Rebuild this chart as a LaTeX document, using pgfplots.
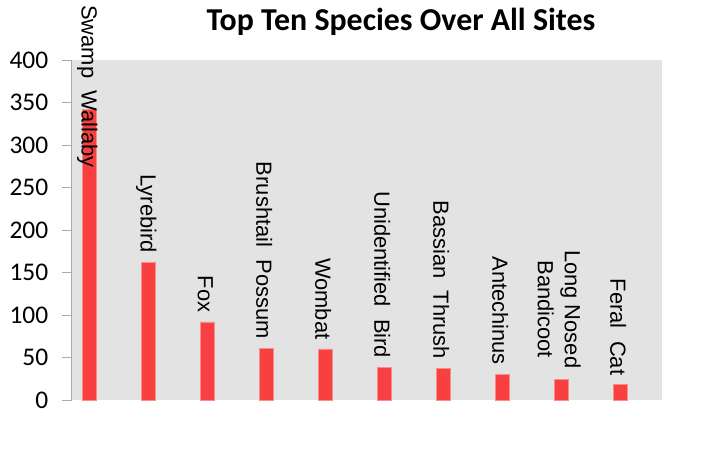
\documentclass[border=0pt]{standalone}
\usepackage{pgfplots}
\pgfplotsset{compat=1.18}
\usepackage{fontspec}
\setmainfont{Liberation Sans}
\newfontfamily\calibri{Carlito}
\definecolor{plotgray}{RGB}{227,227,227}
\definecolor{barred}{RGB}{249,64,64}
\definecolor{axisgray}{RGB}{170,170,170}
\tikzset{lbl/.style={font=\fontsize{22}{27}\selectfont, inner sep=0pt, xshift=-14bp, rotate=-90, anchor=east}}

\begin{document}
\begin{tikzpicture}
\path[use as bounding box] (-71.7bp,-76bp) rectangle (642.3bp,400bp);
\begin{axis}[
    scale only axis,
    width=590bp, height=340bp,
    xmin=-0.5, xmax=9.5,
    ymin=0, ymax=400,
    axis background/.style={fill=plotgray},
    axis x line=none,
    axis y line=left,
    y axis line style={-, draw=axisgray, line width=0.8bp},
    xtick=\empty,
    ytick={0,50,...,400},
    tick align=outside,
    major tick length=10bp,
    ytick style={draw=axisgray, line width=0.8bp},
    yticklabel style={font=\calibri\fontsize{25.5}{30}\selectfont, xshift=-10bp, /pgf/number format/assume math mode=true},
    clip=false,
]
\addplot[ybar, bar width=14bp, bar shift=-12bp, fill=barred, draw=barred!60!white, line width=0.5bp]
    coordinates {(0,342) (1,162) (2,92) (3,61) (4,60) (5,38) (6,37) (7,30) (8,24) (9,18)};

\node[font=\fontsize{22}{27}\selectfont, inner sep=0pt, xshift=-14bp, rotate=-90, anchor=west] at (axis cs:0,464.7) {Swamp~ Wallaby};
\node[lbl] at (axis cs:1,173) {Lyrebird};
\node[lbl] at (axis cs:2,103) {Fox};
\node[lbl] at (axis cs:3,72) {Brushtail~ Possum};
\node[lbl] at (axis cs:4,71) {Wombat};
\node[lbl] at (axis cs:5,49) {Unidentified~ Bird};
\node[lbl] at (axis cs:6,48) {Bassian~ Thrush};
\node[lbl] at (axis cs:7,41) {Antechinus};
\node[lbl, align=center] at (axis cs:8,37) {Long Nosed\\Bandicoot};
\node[lbl] at (axis cs:9,29) {Feral~ Cat};
\end{axis}
\node[font=\calibri\bfseries\fontsize{32}{38}\selectfont, anchor=base] at (329.3bp,369bp) {Top Ten Species Over All Sites};
\end{tikzpicture}
\end{document}
